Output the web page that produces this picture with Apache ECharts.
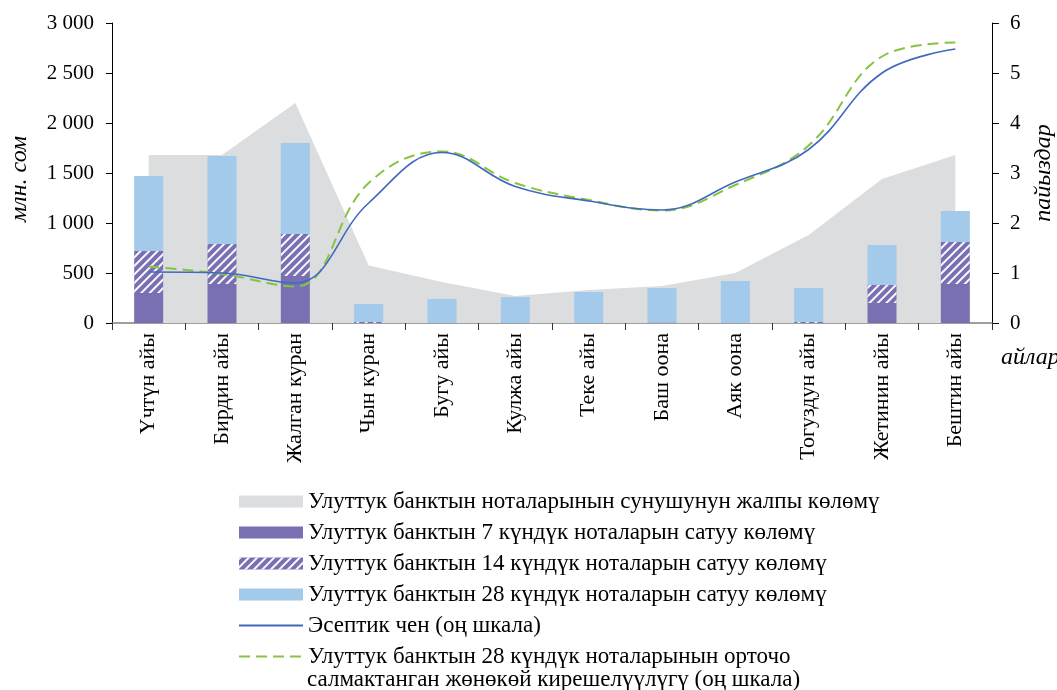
<!DOCTYPE html>
<html>
<head>
<meta charset="utf-8">
<script src="https://cdn.jsdelivr.net/npm/echarts@6/dist/echarts.min.js"></script>
<style>
  html, body { margin: 0; padding: 0; background: #fff; }
  #chart { width: 1057px; height: 690px; }
</style>
</head>
<body>
<div id="chart"></div>
<script>
// айлар
const months = ['Үчтүн айы', 'Бирдин айы', 'Жалган куран', 'Чын куран', 'Бугу айы', 'Кулжа айы',
  'Теке айы', 'Баш оона', 'Аяк оона', 'Тогуздун айы', 'Жетинин айы', 'Бештин айы'];

// млн. сом
const supplyTotal = [1680, 1680, 2200, 575, 410, 270, 330, 370, 500, 880, 1440, 1680];
const sales7 = [300, 390, 470, 0, 0, 0, 0, 5, 0, 0, 200, 390];
const sales14 = [420, 400, 420, 10, 0, 0, 0, 0, 0, 10, 180, 420];
const sales28 = [750, 880, 910, 180, 240, 260, 310, 345, 420, 340, 400, 310];

// пайыздар
const policyRate = [1.02, 1.0, 0.8, 2.4, 3.41, 2.73, 2.44, 2.26, 2.82, 3.47, 5.0, 5.48];
const yield28 = [1.13, 0.98, 0.73, 2.8, 3.43, 2.8, 2.46, 2.25, 2.76, 3.55, 5.33, 5.61];

const leftTicks = [0, 3000, 500];
const rightTicks = [0, 6, 1];

const names = [
  'Улуттук банктын ноталарынын сунушунун жалпы көлөмү',
  'Улуттук банктын 7 күндүк ноталарын сатуу көлөмү',
  'Улуттук банктын 14 күндүк ноталарын сатуу көлөмү',
  'Улуттук банктын 28 күндүк ноталарын сатуу көлөмү',
  'Эсептик чен (оң шкала)',
  'Улуттук банктын 28 күндүк ноталарынын орточо салмактанган жөнөкөй кирешелүүлүгү (оң шкала)'
];

const FONT = '"Liberation Serif", "DejaVu Serif", serif';
const noSymbol = { color: 'rgba(0,0,0,0)', borderColor: 'rgba(0,0,0,0)', borderWidth: 0 };

const chart = echarts.init(document.getElementById('chart'));

chart.setOption({
  animation: false,
  textStyle: { fontFamily: FONT, color: '#000' },
  grid: { left: 112, right: 65, top: 23, bottom: 367, containLabel: false, outerBoundsMode: 'none' },
  legend: {
    orient: 'vertical',
    left: 233,
    top: 485,
    itemWidth: 64,
    itemHeight: 12,
    itemGap: 8,
    textStyle: { fontFamily: FONT, fontSize: 23, color: '#000' },
    formatter: function (n) {
      return n === names[5] ? 'Улуттук банктын 28 күндүк ноталарынын орточо' : n;
    },
    data: [
      { name: names[0], icon: 'rect' },
      { name: names[1], icon: 'rect' },
      { name: names[2], icon: 'rect' },
      { name: names[3], icon: 'rect' },
      { name: names[4], itemStyle: noSymbol },
      { name: names[5], itemStyle: noSymbol }
    ]
  },
  graphic: [
    {
      type: 'text', left: 307, top: 668,
      style: { text: 'салмактанган жөнөкөй кирешелүүлүгү (оң шкала)', font: '23px ' + FONT, fill: '#000' }
    },
    {
      type: 'text', left: 1001, top: 346,
      style: { text: 'айлар', font: 'italic 24px ' + FONT, fill: '#000' }
    }
  ],
  xAxis: {
    type: 'category',
    data: months,
    boundaryGap: true,
    axisLine: { lineStyle: { color: '#7f7f7f', width: 1.5 } },
    axisTick: { show: true, length: 7, lineStyle: { color: '#333' } },
    axisLabel: { rotate: 90, fontSize: 22, color: '#000', margin: 10, fontFamily: FONT }
  },
  yAxis: [
    {
      type: 'value',
      min: leftTicks[0], max: leftTicks[1], interval: leftTicks[2],
      name: 'млн. сом',
      nameLocation: 'middle',
      nameGap: 80,
      nameRotate: 90,
      nameTextStyle: { fontStyle: 'italic', fontSize: 24, fontFamily: FONT, color: '#000', padding: [0, 12, 0, 0] },
      axisLine: { show: true, lineStyle: { color: '#000', width: 1 } },
      axisTick: { show: true, length: 6, lineStyle: { color: '#000' } },
      splitLine: { show: false },
      axisLabel: {
        fontSize: 21, color: '#000', margin: 18, fontFamily: FONT,
        formatter: v => String(v).replace(/\B(?=(\d{3})+(?!\d))/g, ' ')
      }
    },
    {
      type: 'value',
      min: rightTicks[0], max: rightTicks[1], interval: rightTicks[2],
      name: 'пайыздар',
      nameLocation: 'middle',
      nameGap: 40,
      nameRotate: 90,
      nameTextStyle: { fontStyle: 'italic', fontSize: 24, fontFamily: FONT, color: '#000' },
      axisLine: { show: true, lineStyle: { color: '#000', width: 1 } },
      axisTick: { show: true, length: 7, lineStyle: { color: '#000' } },
      splitLine: { show: false },
      axisLabel: { fontSize: 21, color: '#000', margin: 18, fontFamily: FONT }
    }
  ],
  series: [
    {
      name: names[0],
      type: 'line',
      data: supplyTotal,
      color: '#dcdddf',
      symbol: 'none',
      lineStyle: { width: 0 },
      areaStyle: { color: '#dcdddf', opacity: 1 },
      z: 1
    },
    {
      name: names[1],
      type: 'bar',
      stack: 'sales',
      barWidth: 29,
      data: sales7,
      itemStyle: { color: '#7870b2' },
      z: 3
    },
    {
      name: names[2],
      type: 'bar',
      stack: 'sales',
      barWidth: 29,
      data: sales14,
      itemStyle: {
        color: '#7870b2',
        decal: {
          color: 'rgba(255,255,255,0.95)',
          dashArrayX: [1, 0],
          dashArrayY: [2, 4],
          rotation: -Math.PI / 4
        }
      },
      z: 3
    },
    {
      name: names[3],
      type: 'bar',
      stack: 'sales',
      barWidth: 29,
      data: sales28,
      itemStyle: { color: '#a3c9eb' },
      z: 3
    },
    {
      name: names[4],
      type: 'line',
      yAxisIndex: 1,
      data: policyRate,
      smooth: 0.4,
      symbol: 'none',
      color: '#4169bd',
      lineStyle: { width: 1.6, color: '#4169bd' },
      z: 5
    },
    {
      name: names[5],
      type: 'line',
      yAxisIndex: 1,
      data: yield28,
      smooth: 0.4,
      symbol: 'none',
      color: '#86c440',
      lineStyle: { width: 2, color: '#86c440', type: [11, 6] },
      z: 4
    }
  ]
});
</script>
</body>
</html>
